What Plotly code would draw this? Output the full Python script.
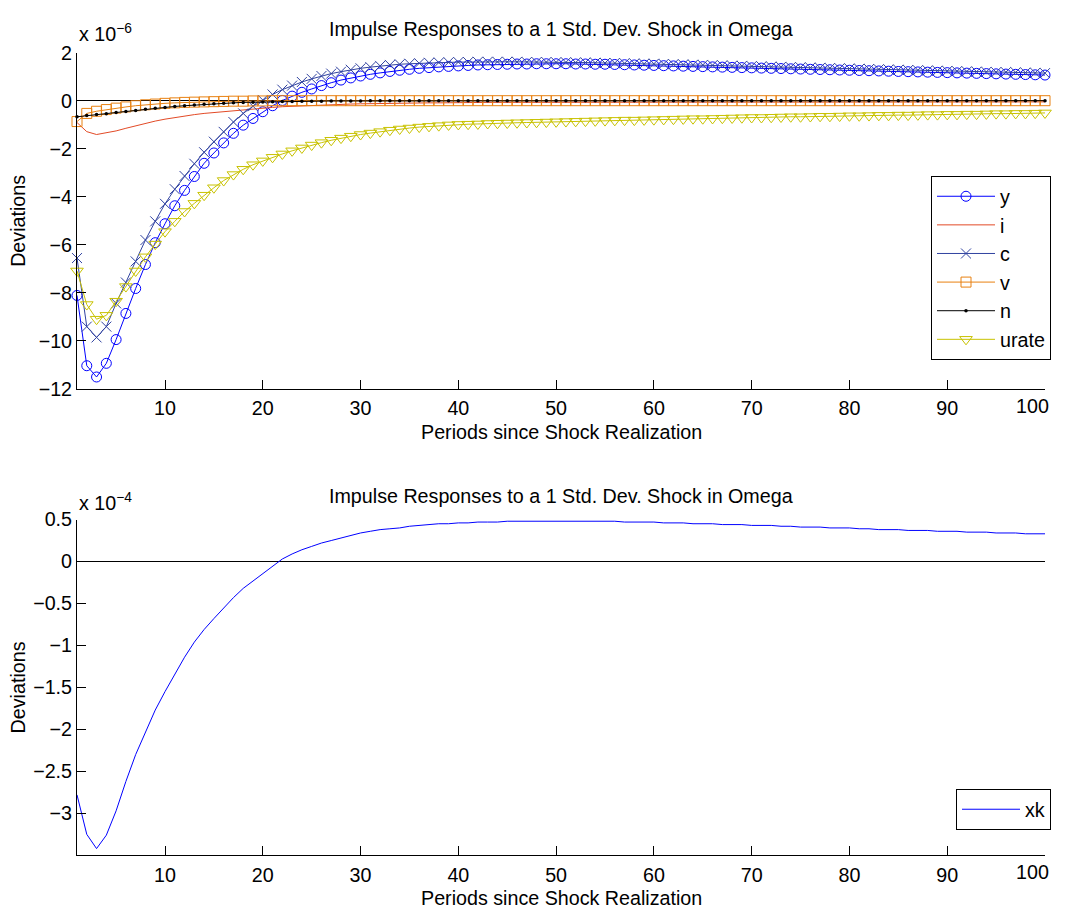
import plotly.graph_objects as go

# ---------------- data (top panel in units of 1e-6, bottom panel in units of 1e-4) ----------------
periods = list(range(1, 101))

y_resp = [
    -8.11, -11.04, -11.51, -10.94, -9.95, -8.86, -7.82, -6.82, -5.91, -5.12,
    -4.37, -3.73, -3.15, -2.60, -2.17, -1.75, -1.35, -1.01, -0.73, -0.45,
    -0.20, 0.02, 0.20, 0.36, 0.50, 0.64, 0.76, 0.87, 0.96, 1.04,
    1.11, 1.17, 1.23, 1.28, 1.32, 1.36, 1.39, 1.42, 1.44, 1.46,
    1.48, 1.50, 1.51, 1.52, 1.53, 1.54, 1.54, 1.55, 1.55, 1.55,
    1.55, 1.54, 1.54, 1.53, 1.53, 1.52, 1.51, 1.50, 1.49, 1.48,
    1.47, 1.46, 1.45, 1.44, 1.43, 1.42, 1.41, 1.40, 1.39, 1.38,
    1.37, 1.36, 1.35, 1.34, 1.33, 1.32, 1.31, 1.30, 1.29, 1.28,
    1.27, 1.26, 1.25, 1.24, 1.23, 1.22, 1.21, 1.20, 1.19, 1.18,
    1.17, 1.16, 1.15, 1.14, 1.13, 1.12, 1.11, 1.10, 1.09, 1.08,
]

i_resp = [
    -0.90, -1.28, -1.40, -1.34, -1.25, -1.14, -1.03, -0.93, -0.84, -0.76,
    -0.69, -0.63, -0.57, -0.52, -0.48, -0.44, -0.40, -0.36, -0.33, -0.30,
    -0.27, -0.24, -0.22, -0.20, -0.18, -0.17, -0.15, -0.14, -0.13, -0.12,
    -0.11, -0.10, -0.10, -0.09, -0.09, -0.08, -0.08, -0.08, -0.07, -0.07,
    -0.07, -0.07, -0.06, -0.06, -0.06, -0.06, -0.06, -0.05, -0.05, -0.05,
    -0.05, -0.05, -0.05, -0.05, -0.05, -0.05, -0.05, -0.05, -0.05, -0.05,
    -0.05, -0.05, -0.05, -0.05, -0.05, -0.05, -0.05, -0.05, -0.05, -0.05,
    -0.04, -0.04, -0.04, -0.04, -0.04, -0.04, -0.04, -0.04, -0.04, -0.04,
    -0.04, -0.04, -0.04, -0.04, -0.04, -0.04, -0.04, -0.04, -0.04, -0.04,
    -0.04, -0.04, -0.04, -0.04, -0.04, -0.04, -0.04, -0.04, -0.04, -0.04,
]

c_resp = [
    -6.55, -9.41, -9.86, -9.41, -8.44, -7.57, -6.69, -5.80, -5.02, -4.29,
    -3.68, -3.13, -2.62, -2.14, -1.70, -1.29, -0.88, -0.52, -0.22, 0.04,
    0.27, 0.47, 0.64, 0.79, 0.92, 1.04, 1.14, 1.22, 1.30, 1.36,
    1.41, 1.46, 1.50, 1.53, 1.55, 1.57, 1.59, 1.60, 1.61, 1.62,
    1.62, 1.63, 1.63, 1.63, 1.63, 1.63, 1.62, 1.62, 1.62, 1.61,
    1.61, 1.60, 1.60, 1.59, 1.58, 1.58, 1.57, 1.56, 1.55, 1.55,
    1.54, 1.53, 1.52, 1.51, 1.50, 1.49, 1.48, 1.47, 1.46, 1.45,
    1.44, 1.43, 1.42, 1.41, 1.40, 1.39, 1.38, 1.37, 1.36, 1.35,
    1.34, 1.33, 1.32, 1.31, 1.30, 1.29, 1.28, 1.27, 1.26, 1.25,
    1.24, 1.23, 1.22, 1.21, 1.20, 1.20, 1.19, 1.18, 1.17, 1.16,
]

v_resp = [
    -0.86, -0.52, -0.43, -0.36, -0.30, -0.25, -0.20, -0.16, -0.13, -0.10,
    -0.08, -0.06, -0.05, -0.04, -0.03, -0.02, -0.01, -0.01, 0.00, 0.00,
    0.01, 0.01, 0.01, 0.01, 0.01, 0.01, 0.01, 0.01, 0.01, 0.01,
    0.01, 0.01, 0.01, 0.01, 0.01, 0.01, 0.01, 0.01, 0.01, 0.01,
    0.01, 0.01, 0.01, 0.01, 0.01, 0.01, 0.01, 0.01, 0.01, 0.01,
    0.01, 0.01, 0.01, 0.01, 0.01, 0.01, 0.01, 0.01, 0.01, 0.01,
    0.01, 0.01, 0.01, 0.01, 0.01, 0.01, 0.01, 0.01, 0.01, 0.01,
    0.01, 0.01, 0.01, 0.01, 0.01, 0.01, 0.01, 0.01, 0.01, 0.01,
    0.01, 0.01, 0.01, 0.01, 0.01, 0.01, 0.01, 0.01, 0.01, 0.01,
    0.01, 0.01, 0.01, 0.01, 0.01, 0.01, 0.01, 0.01, 0.01, 0.01,
]

n_resp = [
    -0.66, -0.61, -0.57, -0.53, -0.48, -0.44, -0.40, -0.35, -0.31, -0.27,
    -0.23, -0.20, -0.17, -0.14, -0.12, -0.10, -0.08, -0.06, -0.05, -0.04,
    -0.03, -0.02, -0.02, -0.01, -0.01, -0.01, 0.00, 0.00, 0.00, 0.00,
    0.01, 0.01, 0.01, 0.01, 0.01, 0.01, 0.01, 0.01, 0.01, 0.01,
    0.01, 0.01, 0.01, 0.01, 0.01, 0.01, 0.01, 0.01, 0.01, 0.01,
    0.01, 0.01, 0.01, 0.01, 0.01, 0.01, 0.01, 0.01, 0.01, 0.01,
    0.01, 0.01, 0.01, 0.01, 0.01, 0.01, 0.01, 0.01, 0.01, 0.01,
    0.01, 0.01, 0.01, 0.01, 0.01, 0.01, 0.01, 0.01, 0.01, 0.01,
    0.01, 0.01, 0.01, 0.01, 0.01, 0.01, 0.01, 0.01, 0.01, 0.01,
    0.01, 0.01, 0.01, 0.01, 0.01, 0.01, 0.01, 0.01, 0.01, 0.01,
]

urate_resp = [
    -7.09, -8.49, -9.10, -8.94, -8.35, -7.74, -7.09, -6.50, -5.97, -5.45,
    -5.02, -4.61, -4.27, -3.93, -3.62, -3.32, -3.07, -2.85, -2.66, -2.50,
    -2.35, -2.21, -2.08, -1.96, -1.84, -1.74, -1.64, -1.55, -1.47, -1.40,
    -1.34, -1.28, -1.22, -1.17, -1.13, -1.09, -1.06, -1.03, -1.00, -0.98,
    -0.97, -0.96, -0.94, -0.93, -0.92, -0.91, -0.90, -0.89, -0.88, -0.87,
    -0.86, -0.85, -0.84, -0.83, -0.82, -0.81, -0.80, -0.80, -0.79, -0.78,
    -0.77, -0.76, -0.75, -0.74, -0.74, -0.73, -0.72, -0.71, -0.70, -0.69,
    -0.69, -0.68, -0.67, -0.66, -0.66, -0.65, -0.64, -0.64, -0.63, -0.62,
    -0.62, -0.61, -0.60, -0.60, -0.59, -0.59, -0.58, -0.57, -0.57, -0.56,
    -0.56, -0.55, -0.55, -0.54, -0.53, -0.53, -0.52, -0.52, -0.51, -0.50,
]

xk_resp = [
    -2.78, -3.25, -3.42, -3.26, -2.97, -2.62, -2.30, -2.03, -1.77, -1.55,
    -1.34, -1.14, -0.96, -0.81, -0.68, -0.55, -0.43, -0.32, -0.23, -0.14,
    -0.06, 0.03, 0.09, 0.14, 0.18, 0.22, 0.25, 0.28, 0.31, 0.34,
    0.36, 0.38, 0.39, 0.40, 0.42, 0.43, 0.44, 0.45, 0.45, 0.46,
    0.46, 0.47, 0.47, 0.47, 0.48, 0.48, 0.48, 0.48, 0.48, 0.48,
    0.48, 0.48, 0.48, 0.48, 0.48, 0.48, 0.47, 0.47, 0.47, 0.47,
    0.46, 0.46, 0.46, 0.45, 0.45, 0.45, 0.44, 0.44, 0.44, 0.43,
    0.43, 0.43, 0.42, 0.42, 0.41, 0.41, 0.41, 0.40, 0.40, 0.40,
    0.39, 0.39, 0.38, 0.38, 0.38, 0.37, 0.37, 0.37, 0.36, 0.36,
    0.36, 0.35, 0.35, 0.35, 0.34, 0.34, 0.34, 0.33, 0.33, 0.33,
]

x_ticks = [10, 20, 30, 40, 50, 60, 70, 80, 90, 100]
x_tick_labels = ["10", "20", "30", "40", "50", "60", "70", "80", "90", ""]
last_tick_label = "100"
y_ticks_top = [2, 0, -2, -4, -6, -8, -10, -12]
y_ticks_bot = [0.5, 0, -0.5, -1, -1.5, -2, -2.5, -3]
title_text = "Impulse Responses to a 1 Std. Dev. Shock in Omega"
xlabel_text = "Periods since Shock Realization"
ylabel_text = "Deviations"

# ---------------- layout geometry (page pixels) ----------------
# Keep the figure clear of the page's right-hand scrollbar gutter so it is
# not squeezed when photographed.
W, H = 1052, 920


def px(x):
    return x / W


def py(y):
    return 1 - y / H


FONT = "Liberation Sans, Arial, Helvetica, sans-serif"
FS = 19.7

top_series = [
    ("y", y_resp, "rgb(0,0,255)", dict(symbol="circle-open", size=10, line=dict(width=1))),
    ("i", i_resp, "rgb(226,74,38)", None),
    ("c", c_resp, "rgb(48,66,160)", dict(symbol="x-thin-open", size=10, line=dict(width=1))),
    ("v", v_resp, "rgb(232,128,16)", dict(symbol="square-open", size=10, line=dict(width=1))),
    ("n", n_resp, "rgb(0,0,0)", dict(symbol="circle", size=3.5)),
    ("urate", urate_resp, "rgb(200,194,0)", dict(symbol="triangle-down-open", size=11, line=dict(width=1))),
]

fig = go.Figure()
for name, vals, color, mk in top_series:
    if mk is None:
        fig.add_trace(go.Scatter(x=periods, y=vals, name=name, mode="lines",
                                 line=dict(color=color, width=1),
                                 xaxis="x", yaxis="y", legend="legend", cliponaxis=False))
    else:
        m = dict(mk)
        m["color"] = color
        fig.add_trace(go.Scatter(x=periods, y=vals, name=name, mode="lines+markers",
                                 line=dict(color=color, width=1), marker=m,
                                 xaxis="x", yaxis="y", legend="legend", cliponaxis=False))

fig.add_trace(go.Scatter(x=periods, y=xk_resp, name="xk", mode="lines",
                         line=dict(color="rgb(0,0,255)", width=1),
                         xaxis="x2", yaxis="y2", legend="legend2", cliponaxis=False))

xdom = [px(77), px(1045)]
ydom_top = [py(387), py(43)]
ydom_bot = [py(865), py(521)]

axis_common = dict(showline=True, linecolor="black", linewidth=1, mirror=False,
                   ticks="inside", ticklen=9, tickcolor="black", tickwidth=1,
                   showgrid=False, tickfont=dict(family=FONT, size=FS, color="black"))
xaxis_extra = dict(range=[1, 100], tickvals=x_ticks, ticktext=x_tick_labels,
                   zeroline=False, ticklabelstandoff=2)

fig.update_layout(
    width=W, height=H,
    margin=dict(l=0, r=0, t=0, b=0),
    paper_bgcolor="white", plot_bgcolor="white",
    font=dict(family=FONT, size=FS, color="black"),
    xaxis=dict(domain=xdom, anchor="y", **xaxis_extra, **axis_common),
    yaxis=dict(domain=ydom_top, anchor="x", range=[-12, 2], tickvals=y_ticks_top,
               zeroline=True, zerolinecolor="black", zerolinewidth=1, **axis_common),
    xaxis2=dict(domain=xdom, anchor="y2", **xaxis_extra, **axis_common),
    yaxis2=dict(domain=ydom_bot, anchor="x2", range=[-3.5, 0.5], tickvals=y_ticks_bot,
                zeroline=True, zerolinecolor="black", zerolinewidth=1, **axis_common),
    legend=dict(x=px(1051), xanchor="right", y=py(169), yanchor="top",
                bordercolor="black", borderwidth=1, bgcolor="white", itemwidth=58,
                font=dict(family=FONT, size=FS, color="black"), tracegroupgap=0),
    legend2=dict(x=px(1051), xanchor="right", y=py(797), yanchor="top",
                 bordercolor="black", borderwidth=1, bgcolor="white", itemwidth=58,
                 font=dict(family=FONT, size=FS, color="black")),
    showlegend=True,
)

xc = (xdom[0] + xdom[1]) / 2
ann = []
for ytitle, yxl, ydev, ytick, xref_ in [(18, 431, 215, 387, "x"), (497, 909, 693, 865, "x2")]:
    ann.append(dict(text=title_text, x=xc, y=py(ytitle), xref="paper", yref="paper",
                    xanchor="center", yanchor="middle", showarrow=False))
    ann.append(dict(text=xlabel_text, x=xc, y=py(yxl), xref="paper", yref="paper",
                    xanchor="center", yanchor="middle", showarrow=False))
    ann.append(dict(text=ylabel_text, x=px(18), y=py(ydev), xref="paper", yref="paper",
                    xanchor="center", yanchor="middle", textangle=-90, showarrow=False))
    # label of the last tick, kept inside the figure's right edge
    ann.append(dict(text=last_tick_label, x=px(1051), y=py(ytick + 4), xref="paper", yref="paper",
                    xanchor="right", yanchor="top", showarrow=False))
ann.append(dict(text="x 10<sup>\u22126</sup>", x=px(77), y=py(37), xref="paper", yref="paper",
                xanchor="left", yanchor="bottom", showarrow=False))
ann.append(dict(text="x 10<sup>\u22124</sup>", x=px(77), y=py(517), xref="paper", yref="paper",
                xanchor="left", yanchor="bottom", showarrow=False))
fig.update_layout(annotations=ann)

fig.write_html("out.html")
